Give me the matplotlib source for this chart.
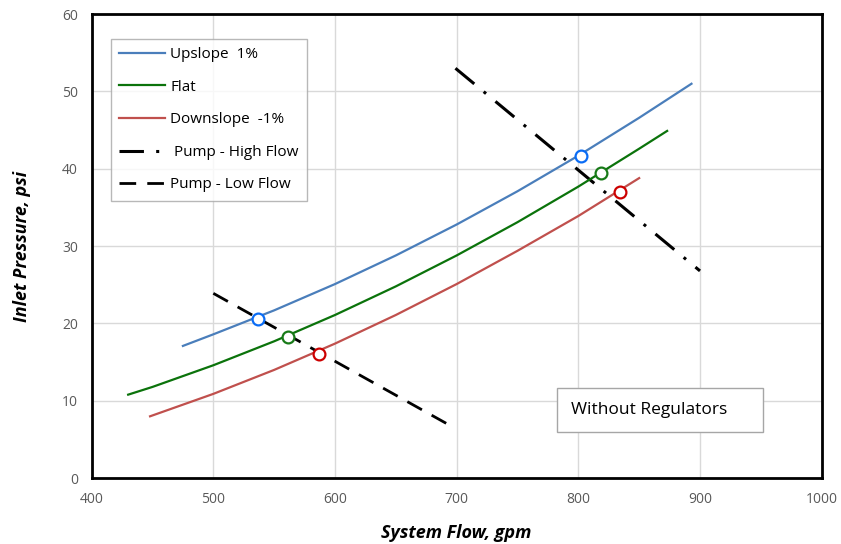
"""Inlet pressure vs system flow, sem reguladores (curvas de sistema e de bomba)."""
import matplotlib
matplotlib.use("Agg")
import matplotlib.pyplot as plt
from matplotlib.patches import Rectangle

# Curvas do sistema (gpm, psi)
up_q = [475, 500, 550, 600, 650, 700, 750, 800, 850, 893]
up_p = [17.1, 18.6, 21.7, 25.1, 28.8, 32.8, 37.1, 41.7, 46.6, 51.0]

flat_q = [430, 450, 500, 550, 600, 650, 700, 750, 800, 850, 873]
flat_p = [10.8, 11.8, 14.6, 17.7, 21.1, 24.8, 28.8, 33.1, 37.7, 42.6, 44.9]

down_q = [448, 500, 550, 600, 650, 700, 750, 800, 850]
down_p = [8.0, 10.9, 14.0, 17.4, 21.1, 25.1, 29.4, 33.9, 38.8]

# Curvas da bomba
high_q = [699, 900]
high_p = [53.0, 26.8]
low_q = [500, 697]
low_p = [23.9, 6.6]

# Pontos de operacao (baixa vazao, alta vazao)
up_op_q = [537, 802]
up_op_p = [20.6, 41.7]
flat_op_q = [561, 819]
flat_op_p = [18.3, 39.5]
down_op_q = [587, 834]
down_op_p = [16.1, 37.0]

plt.rcParams["font.family"] = ["Open Sans", "DejaVu Sans"]

fig = plt.figure(figsize=(8.41, 5.44), dpi=100)
ax = fig.add_axes([0.109, 0.121, 0.868, 0.853])

AZUL, VERDE, VERMELHO = "#4a7ebb", "#0b730b", "#c0504d"

ax.plot(up_q, up_p, color=AZUL, lw=1.6, label="Upslope  1%", zorder=3)
ax.plot(flat_q, flat_p, color=VERDE, lw=1.6, label="Flat", zorder=3)
ax.plot(down_q, down_p, color=VERMELHO, lw=1.6, label="Downslope  -1%", zorder=3)
ax.plot(high_q, high_p, color="black", lw=2.2, linestyle=(0, (8, 4, 1, 4)),
        label=" Pump - High Flow", zorder=2)
ax.plot(low_q, low_p, color="black", lw=2.0, linestyle=(0, (6, 4)),
        label="Pump - Low Flow", zorder=2)

for q, p, cor in [(up_op_q, up_op_p, "#0a6cf5"),
                  (flat_op_q, flat_op_p, "#187a18"),
                  (down_op_q, down_op_p, "#cc0000")]:
    ax.plot(q, p, linestyle="none", marker="o", ms=8.5, mfc="white",
            mec=cor, mew=1.6, zorder=4)

ax.set_xlim(400, 1000)
ax.set_ylim(0, 60)
ax.set_xticks(range(400, 1001, 100))
ax.set_yticks(range(0, 61, 10))
ax.grid(True, color="#d9d9d9", lw=1)
ax.set_axisbelow(True)
ax.tick_params(length=0, labelsize=10, labelcolor="#595959", pad=10)
for s in ax.spines.values():
    s.set_linewidth(2)
    s.set_color("black")

ax.set_xlabel("System Flow, gpm", fontsize=13, fontweight="bold",
              fontstyle="italic", labelpad=12)
ax.set_ylabel("Inlet Pressure, psi", fontsize=13, fontweight="bold",
              fontstyle="italic", labelpad=22)

leg = ax.legend(loc="upper left", bbox_to_anchor=(0.026, 0.947), fontsize=11,
                frameon=True, fancybox=False, handlelength=3.0,
                labelspacing=1.15, borderpad=0.55, handletextpad=0.35,
                borderaxespad=0)
leg.get_frame().set_edgecolor("#a6a6a6")
leg.get_frame().set_linewidth(1)

# Caixa "Without Regulators"
ax.add_patch(Rectangle((0.638, 0.0985), 0.282, 0.095, transform=ax.transAxes,
                       fc="white", ec="#a6a6a6", lw=1, zorder=5))
ax.text(0.657, 0.146, "Without Regulators", transform=ax.transAxes,
        fontsize=12.5, va="center", ha="left", zorder=6)

fig.savefig("out.png", dpi=100)
